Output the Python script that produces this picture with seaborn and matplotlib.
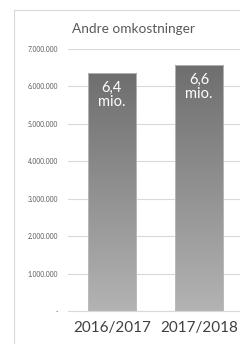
import numpy as np
import pandas as pd
import seaborn as sns
import matplotlib.pyplot as plt
from matplotlib.patches import Rectangle
from matplotlib.colors import LinearSegmentedColormap

# data
years = ["2016/2017", "2017/2018"]
values = [6360000, 6580000]
labels = ["6,4\nmio.", "6,6\nmio."]
yticks = [0, 1000000, 2000000, 3000000, 4000000, 5000000, 6000000, 7000000]
ytick_labels = ["-", "1.000.000", "2.000.000", "3.000.000", "4.000.000",
                "5.000.000", "6.000.000", "7.000.000"]

sns.set_style("white")
plt.rcParams['font.family'] = ['Lato', 'DejaVu Sans']

df = pd.DataFrame({"year": years, "value": values})

fig = plt.figure(figsize=(2.4, 3.44), dpi=100)
ax = fig.add_axes([68 / 240, 1 - 311 / 344, 175 / 240, 262 / 344])

sns.barplot(data=df, x="year", y="value", color="#888888", width=0.55, ax=ax)

# gradient fill in each bar
cmap = LinearSegmentedColormap.from_list("g", ["#b3b3b3", "#6e6e6e"])
grad = np.linspace(0, 1, 256).reshape(-1, 1)
for p in ax.patches:
    x0, y0 = p.get_x(), p.get_y()
    w, h = p.get_width(), p.get_height()
    p.set_facecolor("none")
    p.set_edgecolor("#bdbdbd")
    p.set_linewidth(0.6)
    im = ax.imshow(grad, cmap=cmap, origin="lower", aspect="auto",
                   extent=[x0, x0 + w, y0, y0 + h], zorder=2)
    im.set_clip_path(p)
    p.set_zorder(3)

ax.set_xlim(-0.5, 1.5)
ax.set_ylim(0, 7000000)
ax.set_yticks(yticks)
ax.set_yticklabels(ytick_labels, fontsize=4.8, color="#595959")
ax.tick_params(axis="y", length=0, pad=7)
ax.tick_params(axis="x", length=0, pad=7, labelsize=11, labelcolor="#404040")
ax.set_xlabel("")
ax.set_ylabel("")
ax.grid(axis="y", color="#d9d9d9", linewidth=0.8)
ax.set_axisbelow(True)
for s in ["left", "right", "top"]:
    ax.spines[s].set_visible(False)
ax.spines["bottom"].set_color("#d9d9d9")
ax.spines["bottom"].set_linewidth(0.8)

for i, (v, t) in enumerate(zip(values, labels)):
    ax.text(i, v - 220000, t, ha="center", va="top", color="white",
            fontsize=10.5, linespacing=1.0, zorder=4)

fig.text(133 / 240, 1 - 29 / 344, "Andre omkostninger", ha="center",
         va="center", fontsize=9.8, color="#595959")

# outer chart frame
fig.add_artist(Rectangle((14 / 240, -0.1), 1.2, 1 - 10 / 344 + 0.1,
                         transform=fig.transFigure, fill=False,
                         edgecolor="#d9d9d9", linewidth=0.8))

fig.savefig("out.png", dpi=100)
